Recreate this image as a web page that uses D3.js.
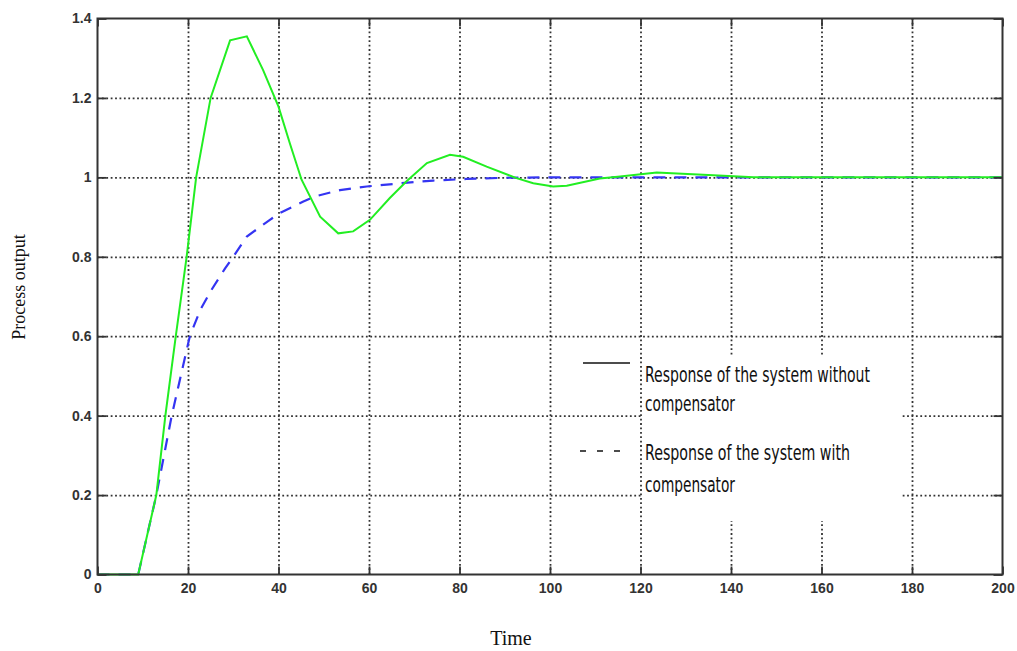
<!doctype html>
<html>
<head>
<meta charset="utf-8">
<script src="https://d3js.org/d3.v7.min.js"></script>
<style>
  body { margin: 0; background: #fff; }
  .tick text { font-family: "Liberation Sans", Arial, sans-serif; font-weight: bold; font-size: 14px; fill: #333; }
  .grid line { stroke: #333; stroke-width: 1.8; stroke-dasharray: 1.8,2.6; }
  .grid path, .frame path { display: none; }
  .frame line { stroke: #333; stroke-width: 1.8; }
  .lab { font-family: "Liberation Serif", "Times New Roman", serif; fill: #111; }
  .leg { font-family: "Liberation Sans Narrow", "DejaVu Sans Condensed", sans-serif; font-size: 21px; fill: #111; }
</style>
</head>
<body>
<div class="graph"></div>
<script>
// response without compensator (green, solid)
var timeNo = [0, 9, 13, 15, 17.3, 19.7, 21.8, 25, 29.3, 33, 36.6, 40, 42.5, 45.1, 49.2, 53.2, 56.5, 60.2, 64.6, 68.3, 72.8, 77.9, 80.8, 86, 92.6, 96.3, 100.7, 103.7, 111, 115.5, 123.6, 125.8, 135, 145, 200];
var outNo  = [0, 0, 0.2, 0.4, 0.6, 0.8, 1.0, 1.2, 1.345, 1.355, 1.27, 1.178, 1.086, 0.994, 0.901, 0.859, 0.864, 0.893, 0.948, 0.99, 1.036, 1.057, 1.052, 1.027, 0.998, 0.985, 0.977, 0.979, 0.997, 1.002, 1.012, 1.011, 1.006, 1.0, 1.0];

// response with compensator (blue, dashed)
var timeWith = [0, 9, 13, 16.4, 20.4, 22.7, 25.2, 28.2, 30, 33, 38.1, 40.3, 45.5, 48.1, 53.6, 59.5, 66.9, 74.2, 81.6, 90, 100, 200];
var outWith  = [0, 0, 0.2, 0.4, 0.6, 0.666, 0.717, 0.771, 0.8, 0.851, 0.893, 0.91, 0.939, 0.952, 0.968, 0.977, 0.985, 0.992, 0.996, 0.999, 1.0, 1.0];

var xTicks = [0, 20, 40, 60, 80, 100, 120, 140, 160, 180, 200];
var yTicks = [0, 0.2, 0.4, 0.6, 0.8, 1, 1.2, 1.4];
var yTickLabels = ["0", "0.2", "0.4", "0.6", "0.8", "1", "1.2", "1.4"];

var legendLabels = [["Response of the system without", "compensator"], ["Response of the system with", "compensator"]];

var width = 1017, height = 651;
var pLeft = 97.5, pRight = 1002.5, pTop = 18.5, pBottom = 574.5;

var svg = d3.select('.graph').append('svg')
  .attr('width', width).attr('height', height);
svg.append('rect').attr('width', width).attr('height', height).style('fill', '#fff');

var x = d3.scaleLinear().domain([0, 200]).range([pLeft, pRight]);
var y = d3.scaleLinear().domain([0, 1.4]).range([pBottom, pTop]);

// dotted grid
svg.append('g').attr('class', 'grid')
  .attr('transform', 'translate(0,' + pBottom + ')')
  .call(d3.axisBottom(x).tickValues(xTicks.slice(1, -1)).tickSize(-(pBottom - pTop)).tickFormat(''));
svg.append('g').attr('class', 'grid')
  .attr('transform', 'translate(' + pLeft + ',0)')
  .call(d3.axisLeft(y).tickValues(yTicks.slice(1, -1)).tickSize(-(pRight - pLeft)).tickFormat(''));

// legend box hides the grid behind it
svg.append('rect')
  .attr('x', 643).attr('y', 355).attr('width', 259).attr('height', 166)
  .style('fill', '#fff');

// curves
var line = d3.line().x(function(d) { return x(d[0]); }).y(function(d) { return y(d[1]); });

svg.append('path')
  .datum(timeWith.map(function(t, i) { return [t, outWith[i]]; }))
  .attr('d', line)
  .style('fill', 'none').style('stroke', '#3434f2').style('stroke-width', 2.2)
  .style('stroke-dasharray', '12,9');

svg.append('path')
  .datum(timeNo.map(function(t, i) { return [t, outNo[i]]; }))
  .attr('d', line)
  .style('fill', 'none').style('stroke', '#22ee22').style('stroke-width', 2);

// axes box with inward ticks on all sides
svg.append('g').attr('class', 'frame')
  .attr('transform', 'translate(0,' + pBottom + ')')
  .call(d3.axisBottom(x).tickValues(xTicks).tickSize(-8).tickPadding(9));
svg.append('g').attr('class', 'frame')
  .attr('transform', 'translate(' + pLeft + ',0)')
  .call(d3.axisLeft(y).tickValues(yTicks).tickSize(-9).tickPadding(6)
    .tickFormat(function(d, i) { return yTickLabels[i]; }));
svg.append('g').attr('class', 'frame')
  .attr('transform', 'translate(0,' + pTop + ')')
  .call(d3.axisTop(x).tickValues(xTicks).tickSize(-8).tickFormat(''));
svg.append('g').attr('class', 'frame')
  .attr('transform', 'translate(' + pRight + ',0)')
  .call(d3.axisRight(y).tickValues(yTicks).tickSize(-9).tickFormat(''));
svg.append('rect')
  .attr('x', pLeft).attr('y', pTop).attr('width', pRight - pLeft).attr('height', pBottom - pTop)
  .style('fill', 'none').style('stroke', '#333').style('stroke-width', 2);

// axis titles
svg.append('text').attr('class', 'lab')
  .attr('x', 511).attr('y', 645).attr('text-anchor', 'middle')
  .style('font-size', '20px').text('Time');
svg.append('text').attr('class', 'lab')
  .attr('transform', 'translate(25,287) rotate(-90)').attr('text-anchor', 'middle')
  .style('font-size', '18px').text('Process output');

// legend
svg.append('line').attr('x1', 583).attr('x2', 630).attr('y1', 363).attr('y2', 363)
  .style('stroke', '#111').style('stroke-width', 1.6);
svg.append('line').attr('x1', 580).attr('x2', 624).attr('y1', 451).attr('y2', 451)
  .style('stroke', '#111').style('stroke-width', 1.6).style('stroke-dasharray', '6,11');

var legRows = [[382, 225], [411, 90], [460, 205], [492, 90]];
var legText = [legendLabels[0][0], legendLabels[0][1], legendLabels[1][0], legendLabels[1][1]];
legText.forEach(function(t, i) {
  svg.append('text').attr('class', 'leg')
    .attr('x', 645).attr('y', legRows[i][0])
    .attr('textLength', legRows[i][1]).attr('lengthAdjust', 'spacingAndGlyphs')
    .text(t);
});
</script>
</body>
</html>
